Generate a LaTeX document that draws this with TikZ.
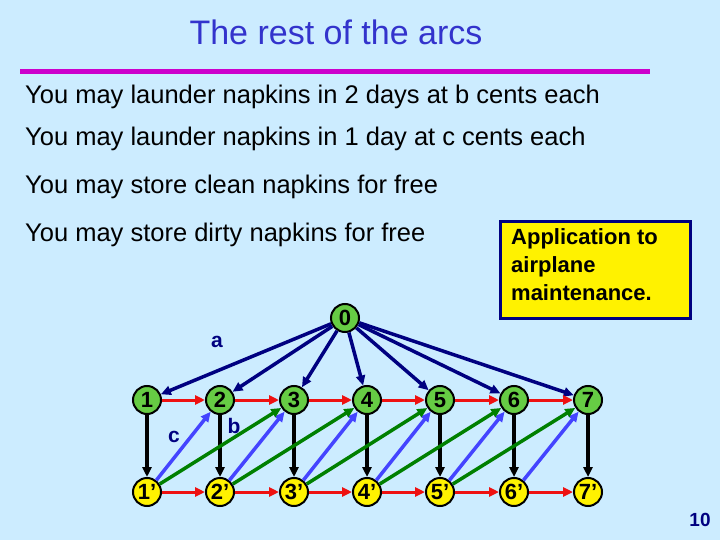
\documentclass[tikz,border=0pt]{standalone}
\usepackage{fontspec}
\setmainfont{Liberation Sans}
\usetikzlibrary{arrows.meta}
\definecolor{bg}{RGB}{204,236,255}
\definecolor{ttl}{RGB}{51,51,204}
\definecolor{gnode}{RGB}{102,204,68}
\definecolor{navy}{RGB}{0,0,128}
\definecolor{ablue}{RGB}{68,68,255}
\definecolor{agreen}{RGB}{0,128,0}
\definecolor{ared}{RGB}{238,17,17}
\begin{document}
\begin{tikzpicture}[x=1pt,y=-1pt,
  gn/.style={circle,draw=black,line width=2pt,fill=gnode,minimum size=28pt,inner sep=0pt,font=\fontsize{22}{24}\selectfont\bfseries},
  yn/.style={circle,draw=black,line width=2pt,fill=yellow,minimum size=28pt,inner sep=0pt,font=\fontsize{22}{24}\selectfont\bfseries},
  txt/.style={anchor=west,font=\fontsize{25.5}{30}\selectfont,inner sep=0pt},
  lab/.style={font=\fontsize{21}{24}\selectfont\bfseries,text=navy},
  arr/.style={-{Triangle[length=10pt,width=9pt]},line width=3.5pt},
  top/.style={arr,draw=navy},
  hor/.style={arr,draw=ared,line width=3pt},
  ver/.style={arr,draw=black},
  bl/.style={arr,draw=ablue},
  gr/.style={arr,draw=agreen}]
\fill[bg] (0,0) rectangle (720,540);
\useasboundingbox (0,0) rectangle (720,540);
\node[font=\fontsize{34}{40}\selectfont,text=ttl] (title) at (336,32) {The rest of the arcs};
\draw[line width=5pt,draw={rgb,255:red,204;green,0;blue,204}] (20,72) coordinate (l1) -- (650,72) coordinate (l2);
\node[txt] (t1) at (25,97) {You may launder napkins in 2 days at b cents each};
\node[txt] (t2) at (25,139) {You may launder napkins in 1 day at c cents each};
\node[txt] (t3) at (25,187) {You may store clean napkins for free};
\node[draw=navy,line width=3pt,fill=yellow,minimum width=190pt,minimum height=96pt] (box) at (595,270) {};
\node[txt] (t4) at (25,235) {You may store dirty napkins for free};
\node[anchor=north west,align=left,font=\fontsize{22}{28}\selectfont\bfseries,inner sep=0pt] (boxtxt) at (511,228) {Application to\\airplane\\maintenance.};
\node[gn] (n0) at (345,318) {0};
\foreach \i/\x in {1/147,2/220,3/294,4/367,5/440,6/514,7/588}{
  \node[gn] (t\i) at (\x,400) {\i};
  \node[yn] (b\i) at (\x,492) {\i’};
}
\foreach \i in {1,...,7}{\draw[top] (n0) -- (t\i); \draw[ver] (t\i) -- (b\i);}
\foreach \i/\j in {1/2,2/3,3/4,4/5,5/6,6/7}{
  \draw[hor] (t\i) -- (t\j); \draw[hor] (b\i) -- (b\j); \draw[bl] (b\i) -- (t\j);}
\foreach \i/\j in {1/3,2/4,3/5,4/6,5/7}{\draw[gr] (b\i) -- (t\j);}
\node[lab] (la) at (217,342) {a};
\node[lab] (lb) at (234,426) {b};
\node[lab] (lc) at (174,437) {c};
\node[font=\fontsize{19}{22}\selectfont\bfseries,text=navy] (pg) at (700,520) {10};
\end{tikzpicture}
\end{document}
